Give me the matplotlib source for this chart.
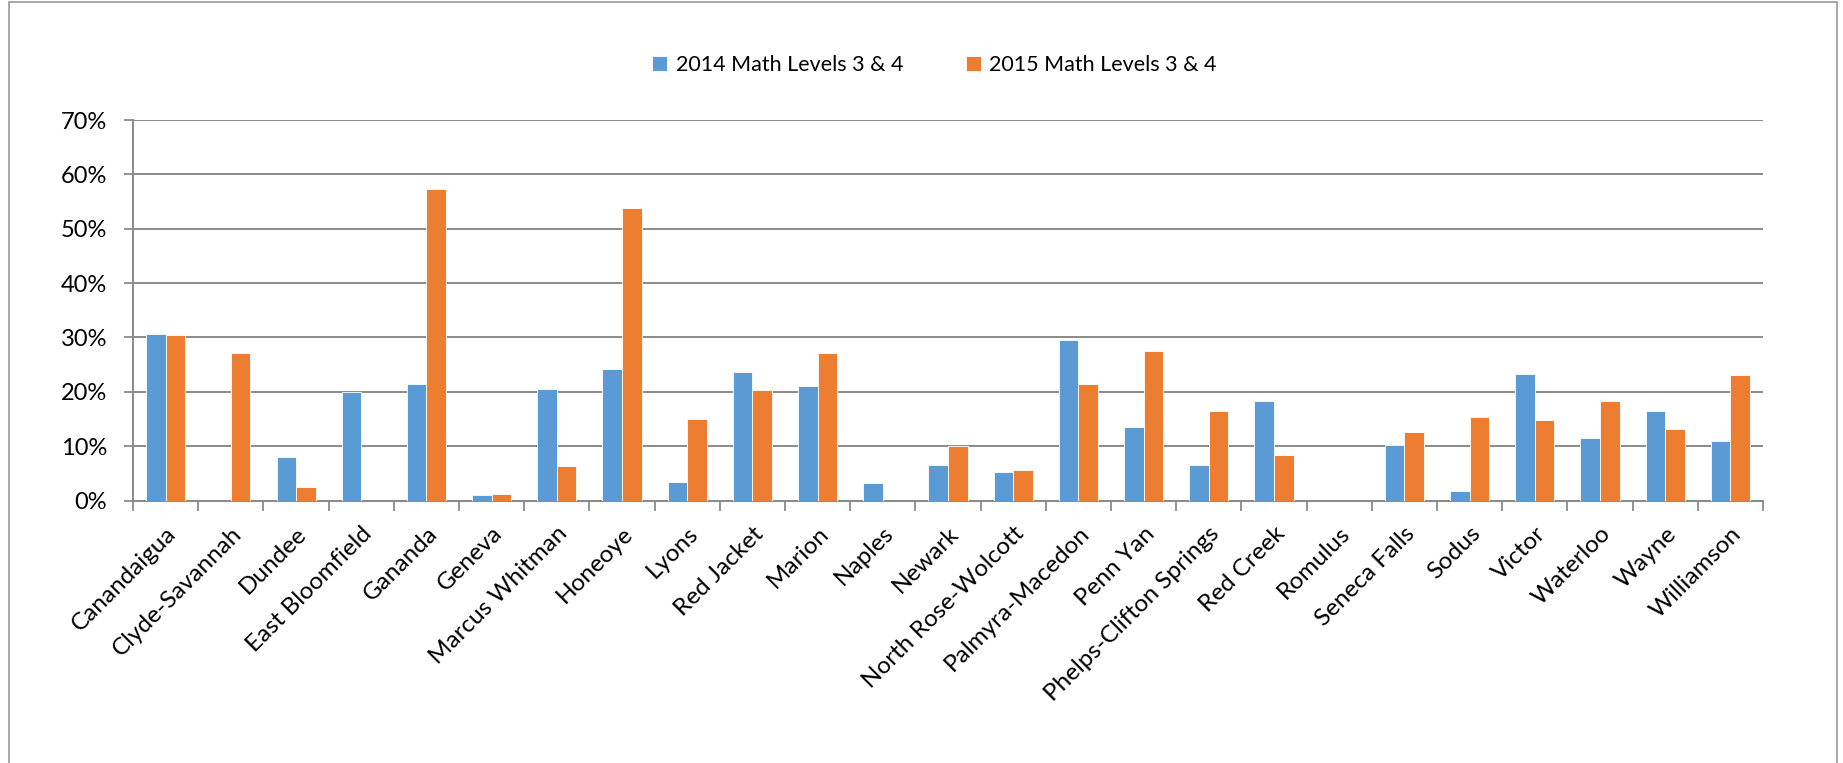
import matplotlib.pyplot as plt
from matplotlib.patches import Rectangle
from matplotlib.ticker import PercentFormatter
import numpy as np

plt.rcParams['font.family'] = ['Lato', 'DejaVu Sans']

districts = ['Canandaigua', 'Clyde-Savannah', 'Dundee', 'East Bloomfield', 'Gananda',
             'Geneva', 'Marcus Whitman', 'Honeoye', 'Lyons', 'Red Jacket', 'Marion',
             'Naples', 'Newark', 'North Rose-Wolcott', 'Palmyra-Macedon', 'Penn Yan',
             'Phelps-Clifton Springs', 'Red Creek', 'Romulus', 'Seneca Falls', 'Sodus',
             'Victor', 'Waterloo', 'Wayne', 'Williamson']
math_2014 = [30.7, 0.0, 8.0, 19.9, 21.5, 1.0, 20.5, 24.2, 3.5, 23.6, 21.0, 3.3, 6.6,
             5.2, 29.6, 13.6, 6.6, 18.4, 0.0, 10.2, 1.8, 23.3, 11.5, 16.4, 10.9]
math_2015 = [30.5, 27.1, 2.5, 0.0, 57.4, 1.2, 6.3, 53.9, 15.1, 20.4, 27.2, 0.0, 10.1,
             5.7, 21.5, 27.5, 16.4, 8.4, 0.0, 12.7, 15.3, 14.8, 18.3, 13.1, 23.1]
labels = ['2014 Math Levels 3 & 4', '2015 Math Levels 3 & 4']

blue = '#5B9BD5'
orange = '#ED7D31'
grid_c = '#8A8A8A'

fig = plt.figure(figsize=(18.43, 7.63), dpi=100, facecolor='w')
ax = fig.add_axes([0.0722, 0.3439, 0.8844, 0.4988])

x = np.arange(len(districts))
w = 0.3
ax.bar(x - w / 2, math_2014, w, color=blue, edgecolor='white', linewidth=0.6, label=labels[0], zorder=3)
ax.bar(x + w / 2, math_2015, w, color=orange, edgecolor='white', linewidth=0.6, label=labels[1], zorder=3)

ax.set_xlim(-0.5, len(districts) - 0.5)
ax.set_ylim(0, 70)
ax.set_yticks(np.arange(0, 71, 10))
ax.yaxis.set_major_formatter(PercentFormatter(decimals=0))
ax.yaxis.grid(True, color=grid_c, linewidth=1.4, zorder=0)

# ticks between categories, labels at centers
ax.set_xticks(np.arange(-0.5, len(districts), 1.0))
ax.set_xticklabels([])
ax.set_xticks(x, minor=True)
ax.set_xticklabels(districts, minor=True, rotation=45, ha='right', rotation_mode='anchor', fontsize=17.5)
ax.tick_params(axis='x', which='minor', length=0, pad=16)
ax.tick_params(axis='x', which='major', length=7, width=1.3, color=grid_c, direction='out')
ax.tick_params(axis='y', length=6.5, width=1.3, color=grid_c, labelsize=17, pad=12)

for s in ['top', 'right']:
    ax.spines[s].set_visible(False)
for s in ['left', 'bottom']:
    ax.spines[s].set_color(grid_c)
    ax.spines[s].set_linewidth(1.4)

fig.legend(loc='center', bbox_to_anchor=(0.507, 0.915), ncol=2, frameon=False,
           fontsize=15.5, handlelength=0.7, handleheight=0.7, columnspacing=2.9, handletextpad=0.4)

# outer chart frame
fig.patches.append(Rectangle((9 / 1843, -0.01), 1828 / 1843, 1.0 - 2 / 763 + 0.01,
                             transform=fig.transFigure, fill=False, edgecolor='#9A9A9A', linewidth=1.2))

fig.savefig('out.png', dpi=100)
